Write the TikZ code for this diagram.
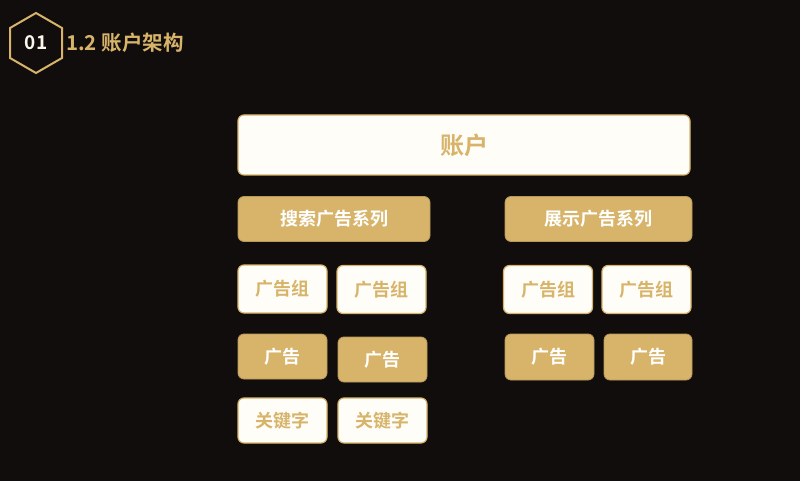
\documentclass[tikz,border=0pt]{standalone}
\usepackage{fontspec}
\newfontfamily\cjk{Noto Sans CJK SC Bold}
\definecolor{bg}{HTML}{110D0C}
\definecolor{gold}{HTML}{D7B46A}
\definecolor{cream}{HTML}{FFFDF8}
\tikzset{
  wbox/.style={draw=gold, line width=1.2pt, fill=cream, rounded corners=6pt, text=gold, font=\cjk\fontsize{18}{20}\selectfont},
  gbox/.style={draw=gold!85!black, line width=0.8pt, fill=gold, rounded corners=6pt, text=white, font=\cjk\fontsize{18}{20}\selectfont},
  lbl/.style={font=\cjk\fontsize{19}{20}\selectfont, inner sep=0pt}
}
\begin{document}
\begin{tikzpicture}[x=1pt,y=-1pt]
\fill[bg] (0,0) rectangle (800,481);
\useasboundingbox (0,0) rectangle (800,481);
% header
\draw[gold, line width=2pt] (36,13) -- (62,28) -- (62,58) -- (36,73) -- (10,58) -- (10,28) -- cycle;
\node[lbl, text=cream!90!gold] (num) at (36,43) {01};
\node[lbl, text=gold, anchor=west, font=\cjk\fontsize{20.5}{22}\selectfont] (title) at (66,43) {1.2 账户架构};
% boxes
\node[wbox, minimum width=452pt, minimum height=60pt, font=\cjk\fontsize{24}{26}\selectfont] (acct) at (464,145) {账户};
\node[gbox, minimum width=192pt, minimum height=45pt] (s1) at (334,219) {搜索广告系列};
\node[gbox, minimum width=187pt, minimum height=45pt] (s2) at (598.5,219) {展示广告系列};
\node[wbox, minimum width=89pt, minimum height=48pt] (g1) at (282.5,289) {广告组};
\node[wbox, minimum width=89pt, minimum height=48pt] (g2) at (381.5,289.5) {广告组};
\node[wbox, minimum width=89pt, minimum height=48pt] (g3) at (548,289.5) {广告组};
\node[wbox, minimum width=89pt, minimum height=48pt] (g4) at (646.5,289.5) {广告组};
\node[gbox, minimum width=89pt, minimum height=45pt] (a1) at (282.5,356.5) {广告};
\node[gbox, minimum width=89pt, minimum height=45pt] (a2) at (382.5,359.5) {广告};
\node[gbox, minimum width=89pt, minimum height=46pt] (a3) at (549.5,357) {广告};
\node[gbox, minimum width=88pt, minimum height=46pt] (a4) at (648,357) {广告};
\node[wbox, minimum width=89pt, minimum height=45pt] (k1) at (282.5,420.5) {关键字};
\node[wbox, minimum width=89pt, minimum height=45pt] (k2) at (382.5,420.5) {关键字};
\end{tikzpicture}
\end{document}
